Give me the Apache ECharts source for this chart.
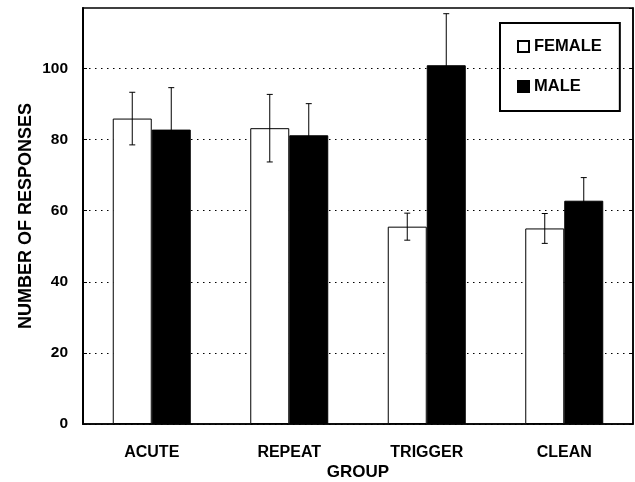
<!DOCTYPE html>
<html>
<head>
<meta charset="utf-8">
<script src="https://cdn.jsdelivr.net/npm/echarts@6/dist/echarts.min.js"></script>
<style>
  html, body { margin: 0; padding: 0; background: #fff; }
  #chart { width: 635px; height: 482px; }
</style>
</head>
<body>
<div id="chart"></div>
<script>
// Groups and mean response counts with their error (±) values
var categories = ['ACUTE', 'REPEAT', 'TRIGGER', 'CLEAN'];
var femaleMean = [85.9, 83.2, 55.5, 55.0];
var femaleErr  = [7.4, 9.5, 3.8, 4.2];
var maleMean   = [82.8, 81.2, 100.9, 62.8];
var maleErr    = [11.8, 8.9, 14.5, 6.5];
var yTicks = [0, 20, 40, 60, 80, 100];

var FONT = '"Liberation Sans", Arial, Helvetica, sans-serif';
var BAR_W = 39;

function errData(means, errs) {
  return means.map(function (m, i) { return [i, m, errs[i]]; });
}

// Error bar with caps, shifted to sit on the centre of its bar
function errorBar(side) {
  return function (params, api) {
    var i = api.value(0), m = api.value(1), e = api.value(2);
    var x = api.coord([i, m])[0] + side * BAR_W / 2;
    var yt = api.coord([i, m + e])[1];
    var yb = api.coord([i, m - e])[1];
    var cap = 3;
    var st = { stroke: '#000', lineWidth: 1 };
    return {
      type: 'group',
      children: [
        { type: 'line', shape: { x1: x, y1: yt, x2: x, y2: yb }, style: st },
        { type: 'line', shape: { x1: x - cap, y1: yt, x2: x + cap, y2: yt }, style: st },
        { type: 'line', shape: { x1: x - cap, y1: yb, x2: x + cap, y2: yb }, style: st }
      ]
    };
  };
}

var chart = echarts.init(document.getElementById('chart'));
chart.setOption({
  animation: false,
  backgroundColor: '#fff',
  textStyle: { fontFamily: FONT },
  grid: {
    left: 83, right: 2, top: 8, bottom: 58,
    outerBoundsMode: 'none',
    containLabel: false,
    show: true, borderColor: '#000', borderWidth: 1.5
  },
  legend: {
    orient: 'vertical',
    left: 500, top: 23,
    padding: [15, 18, 16, 17],
    borderColor: '#000', borderWidth: 2,
    itemWidth: 11, itemHeight: 11, itemGap: 23,
    icon: 'rect',
    textStyle: { fontFamily: FONT, fontWeight: 'bold', fontSize: 16.5, color: '#000' },
    data: ['FEMALE', 'MALE']
  },
  xAxis: {
    type: 'category',
    data: categories,
    axisTick: { show: false },
    axisLine: { lineStyle: { color: '#000', width: 1.5 } },
    axisLabel: { color: '#000', fontWeight: 'bold', fontSize: 16, margin: 21, fontFamily: FONT },
    name: 'GROUP',
    nameLocation: 'middle',
    nameGap: 40,
    nameMoveOverlap: false,
    nameTextStyle: { color: '#000', fontWeight: 'bold', fontSize: 17, fontFamily: FONT }
  },
  yAxis: [{
    type: 'value',
    min: yTicks[0], max: 117, interval: yTicks[1] - yTicks[0],
    axisLine: { show: true, lineStyle: { color: '#000', width: 2 } },
    axisTick: { show: true, inside: true, length: 4, lineStyle: { color: '#000' } },
    axisLabel: { color: '#000', fontWeight: 'bold', fontSize: 15.5, margin: 15, showMaxLabel: false, fontFamily: FONT },
    splitLine: { show: true, showMaxLine: false, lineStyle: { color: '#000', width: 1, type: [1.5, 4.5] } },
    name: 'NUMBER OF RESPONSES',
    nameLocation: 'middle',
    nameGap: 48,
    nameMoveOverlap: false,
    nameTextStyle: { color: '#000', fontWeight: 'bold', fontSize: 18, fontFamily: FONT }
  }, {
    type: 'value',
    position: 'right',
    min: yTicks[0], max: 117, interval: yTicks[1] - yTicks[0],
    axisLine: { show: true, lineStyle: { color: '#000', width: 1.5 } },
    axisTick: { show: true, inside: true, length: 4, lineStyle: { color: '#000' } },
    axisLabel: { show: false },
    splitLine: { show: false }
  }],
  series: [{
    name: 'FEMALE',
    type: 'bar',
    data: femaleMean,
    barWidth: BAR_W,
    barGap: '0%',
    itemStyle: { color: '#fff', borderColor: '#000', borderWidth: 1 }
  }, {
    name: 'MALE',
    type: 'bar',
    data: maleMean,
    barWidth: BAR_W,
    barGap: '0%',
    itemStyle: { color: '#000', borderColor: '#000', borderWidth: 1 }
  }, {
    type: 'custom',
    renderItem: errorBar(-1),
    data: errData(femaleMean, femaleErr),
    encode: { x: 0, y: 1 },
    z: 10
  }, {
    type: 'custom',
    renderItem: errorBar(1),
    data: errData(maleMean, maleErr),
    encode: { x: 0, y: 1 },
    z: 10
  }]
});
</script>
</body>
</html>
